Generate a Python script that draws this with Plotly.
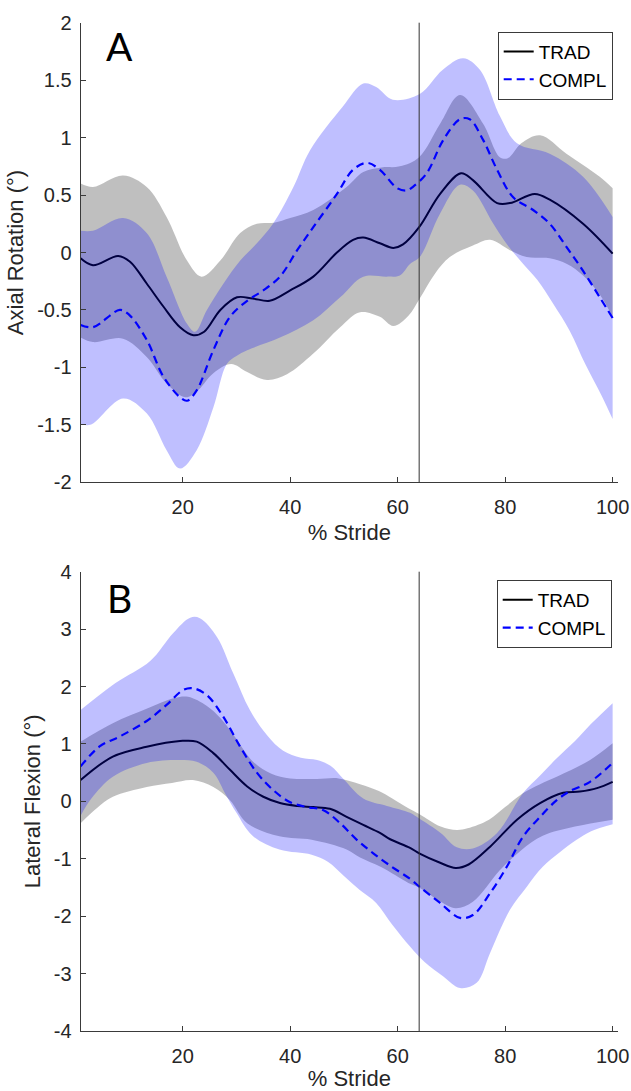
import plotly.graph_objects as go

# ---------------------------------------------------------------
# Panel A - axial rotation (deg) over the stride, mean and mean +/- SD
# each series is a list of (% stride, value) knots
# ---------------------------------------------------------------
AR_TRAD_MEAN = [(1, -0.05), (3.3, -0.11), (8, -0.03), (10.2, -0.08), (13.3, -0.27), (16.4, -0.47),
                (19.5, -0.65), (22, -0.72), (24, -0.69), (27, -0.50), (30.1, -0.39), (33, -0.40),
                (36.2, -0.42), (40, -0.33), (44.3, -0.21), (48.7, 0.0), (51.7, 0.11), (53.6, 0.13),
                (56.7, 0.08), (59.2, 0.04), (61, 0.07), (64, 0.22), (67.9, 0.51), (71.8, 0.69),
                (74, 0.63), (78.5, 0.43), (80.9, 0.43), (85.5, 0.51), (88.3, 0.46), (94.5, 0.25),
                (100, -0.01)]
AR_TRAD_UPPER = [(1, 0.60), (3.3, 0.57), (8.9, 0.67), (13.3, 0.57), (17, 0.31), (20.8, -0.07),
                 (23.5, -0.21), (27, -0.07), (30.7, 0.17), (33.8, 0.25), (37, 0.26), (40, 0.30),
                 (44.3, 0.37), (50.5, 0.57), (53.6, 0.70), (57, 0.74), (60.4, 0.75), (64, 0.83),
                 (67.9, 1.12), (71.6, 1.37), (75.9, 1.12), (79, 0.83), (80.5, 0.82), (83, 0.95),
                 (86.5, 1.02), (91.4, 0.86), (97.6, 0.66), (100, 0.56)]
AR_TRAD_LOWER = [(1, -0.74), (3.3, -0.78), (8.9, -0.75), (13.3, -0.91), (17, -1.14), (20.5, -1.26),
                 (22.6, -1.21), (25.7, -1.05), (29, -0.97), (32, -1.04), (35.7, -1.11), (39.4, -1.06),
                 (44.3, -0.88), (49.3, -0.65), (53, -0.52), (56.7, -0.56), (59.2, -0.64), (62, -0.55),
                 (64.1, -0.40), (67, -0.18), (69.7, -0.04), (74, 0.06), (77.2, 0.11), (80.9, 0.02),
                 (84, -0.04), (88.3, -0.05), (91.5, -0.10), (94.5, -0.20), (97.5, -0.36), (100, -0.56)]
AR_COMPL_MEAN = [(1, -0.63), (3.3, -0.65), (8.3, -0.50), (10, -0.54), (13.3, -0.76), (16.4, -1.08),
                 (19.5, -1.26), (20.8, -1.29), (22.6, -1.20), (25.7, -0.85), (28.8, -0.56), (32, -0.42),
                 (35, -0.33), (38.1, -0.21), (41.3, 0.02), (44.3, 0.22), (48.7, 0.51), (51.7, 0.72),
                 (54.3, 0.78), (56.7, 0.72), (59.9, 0.56), (61.7, 0.54), (62.8, 0.57), (65.4, 0.69),
                 (68.5, 0.98), (71.6, 1.16), (73.4, 1.16), (75.9, 0.98), (78.5, 0.72), (81.5, 0.48),
                 (85.2, 0.37), (88.3, 0.25), (91.4, 0.05), (94.5, -0.16), (97.6, -0.39), (100, -0.57)]
AR_COMPL_UPPER = [(1, 0.19), (3.3, 0.19), (8.9, 0.30), (13.3, 0.17), (17, -0.21), (20.8, -0.62),
                  (22.3, -0.69), (24.5, -0.50), (27.6, -0.27), (30.7, -0.07), (33.8, 0.08), (36.8, 0.25),
                  (40.6, 0.57), (43.7, 0.89), (49.8, 1.27), (53.6, 1.47), (56, 1.44), (59.1, 1.33),
                  (64.1, 1.38), (68.4, 1.59), (72.2, 1.69), (75.3, 1.59), (79, 1.19), (82.2, 0.95),
                  (88.3, 0.86), (94.5, 0.66), (100, 0.31)]
AR_COMPL_LOWER = [(1, -1.49), (2.8, -1.50), (8.9, -1.27), (13.3, -1.40), (17, -1.72), (19.5, -1.88),
                  (22.6, -1.72), (25.7, -1.35), (28.2, -0.97), (30, -0.90), (32, -0.85), (38.1, -0.74),
                  (44.3, -0.59), (49.3, -0.39), (53.6, -0.21), (58, -0.21), (60.4, -0.20), (62.3, -0.10),
                  (64.1, -0.04), (67.9, 0.34), (71.6, 0.59), (74, 0.54), (77.8, 0.25), (80.5, 0.06),
                  (83, -0.08), (86, -0.24), (89, -0.45), (92, -0.68), (95, -0.98), (98, -1.25), (100, -1.45)]

# ---------------------------------------------------------------
# Panel B - lateral flexion (deg) over the stride
# ---------------------------------------------------------------
LF_TRAD_MEAN = [(1, 0.37), (7, 0.78), (13.3, 0.95), (19.5, 1.05), (22.6, 1.04), (25.7, 0.84),
                (28.8, 0.55), (32, 0.26), (35, 0.08), (38.1, -0.03), (41.3, -0.08), (44.3, -0.10),
                (47.4, -0.13), (50.5, -0.27), (53.6, -0.41), (56.7, -0.55), (58.6, -0.66),
                (62.3, -0.81), (64.1, -0.91), (67.9, -1.07), (70.8, -1.16), (73.2, -1.10),
                (77.2, -0.79), (82.2, -0.32), (86.5, -0.03), (90.8, 0.15), (93.9, 0.17),
                (97.1, 0.23), (100, 0.34)]
LF_TRAD_UPPER = [(1, 1.04), (7, 1.36), (13.5, 1.62), (18.5, 1.80), (21, 1.82), (24.5, 1.66),
                 (27, 1.45), (29.5, 1.15), (33, 0.70), (36.5, 0.48), (40, 0.40), (45, 0.39),
                 (49, 0.40), (53, 0.30), (56.5, 0.18), (59, 0.05), (62, -0.12), (64, -0.22),
                 (68, -0.44), (71, -0.50), (73, -0.47), (77, -0.32), (80, -0.10), (83.3, 0.14),
                 (86.5, 0.30), (89.6, 0.43), (95.8, 0.72), (100, 1.01)]
LF_TRAD_LOWER = [(1, -0.38), (4, -0.12), (7, 0.08), (13.3, 0.25), (18, 0.32), (21.9, 0.37),
                 (25.7, 0.25), (28.8, 0.02), (32, -0.38), (38, -0.61), (44, -0.67), (50.5, -0.84),
                 (53, -0.98), (57, -1.15), (62, -1.42), (64, -1.50), (68, -1.75), (70.8, -1.86),
                 (74, -1.75), (79, -1.20), (83, -0.85), (87, -0.60), (93, -0.44), (100, -0.32)]
LF_COMPL_MEAN = [(1, 0.61), (4.6, 0.96), (8.3, 1.13), (13.3, 1.40), (17, 1.68), (20.1, 1.94),
                 (21.9, 1.97), (24.5, 1.85), (27.5, 1.48), (30.7, 0.95), (33.8, 0.50), (36.8, 0.20),
                 (39.9, -0.01), (43.1, -0.10), (46.1, -0.15), (49.3, -0.38), (52.4, -0.67),
                 (55.4, -0.90), (58.6, -1.12), (62.3, -1.35), (64.1, -1.49), (67.9, -1.77),
                 (71.6, -2.03), (74, -1.98), (77.2, -1.60), (80.3, -1.14), (83.3, -0.62),
                 (86.5, -0.27), (89.6, 0.02), (91.9, 0.17), (95.8, 0.34), (100, 0.67)]
LF_COMPL_UPPER = [(1, 1.59), (7.5, 2.06), (14, 2.45), (18.2, 2.93), (21.4, 3.20), (23.2, 3.19),
                  (26.4, 2.86), (29.4, 2.23), (32.5, 1.59), (35.7, 1.15), (38.7, 0.88), (42, 0.76),
                  (45, 0.72), (47.5, 0.62), (50, 0.38), (53.6, 0.05), (58, -0.08), (62.3, -0.20),
                  (64, -0.30), (68, -0.55), (71, -0.80), (74, -0.82), (78.5, -0.55), (83.3, 0.14),
                  (86.5, 0.45), (89.6, 0.75), (93, 1.05), (96, 1.35), (100, 1.71)]
LF_COMPL_LOWER = [(1, -0.25), (3, 0.05), (7, 0.43), (13.3, 0.67), (19.5, 0.72), (22.6, 0.69),
                  (25.7, 0.50), (28, 0.12), (30, -0.20), (33, -0.60), (38, -0.84), (44, -0.93),
                  (47, -1.05), (50, -1.30), (53, -1.55), (56, -1.77), (59, -2.15), (62.3, -2.53),
                  (65, -2.80), (68.5, -3.05), (71.6, -3.25), (74.7, -3.16), (77.2, -2.64),
                  (80.9, -1.89), (84, -1.49), (87, -1.14), (90, -0.90), (93.3, -0.67), (96, -0.52),
                  (100, -0.40)]

TOE_OFF = 64  # vertical event marker, % stride

X_TICKS = [20, 40, 60, 80, 100]
AR_TICKS = [2, 1.5, 1, 0.5, 0, -0.5, -1, -1.5, -2]
AR_TICK_TEXT = ["2", "1.5", "1", "0.5", "0", "-0.5", "-1", "-1.5", "-2"]
LF_TICKS = [4, 3, 2, 1, 0, -1, -2, -3, -4]
LF_TICK_TEXT = ["4", "3", "2", "1", "0", "-1", "-2", "-3", "-4"]

GRAY_FILL = "rgba(128,128,128,0.5)"
BLUE_FILL = "rgba(0,0,255,0.25)"
AXIS_COLOR = "#3a3a3a"
TEXT_COLOR = "#262626"
FONT = "Liberation Sans, Arial, sans-serif"


def xs(pts):
    return [p[0] for p in pts]


def ys(pts):
    return [p[1] for p in pts]


fig = go.Figure()


def add_panel(xa, ya, legend, t_mean, t_up, t_lo, c_mean, c_up, c_lo):
    common = dict(xaxis=xa, yaxis=ya, mode="lines", hoverinfo="skip")
    # TRAD band
    fig.add_trace(go.Scatter(x=xs(t_lo), y=ys(t_lo), line=dict(width=0, shape="spline"),
                             showlegend=False, **common))
    fig.add_trace(go.Scatter(x=xs(t_up), y=ys(t_up), line=dict(width=0, shape="spline"),
                             fill="tonexty", fillcolor=GRAY_FILL, showlegend=False, **common))
    fig.add_trace(go.Scatter(x=xs(t_mean), y=ys(t_mean), name="TRAD", legend=legend,
                             line=dict(color="black", width=2, shape="spline"), **common))
    # COMPL band
    fig.add_trace(go.Scatter(x=xs(c_lo), y=ys(c_lo), line=dict(width=0, shape="spline"),
                             showlegend=False, **common))
    fig.add_trace(go.Scatter(x=xs(c_up), y=ys(c_up), line=dict(width=0, shape="spline"),
                             fill="tonexty", fillcolor=BLUE_FILL, showlegend=False, **common))
    fig.add_trace(go.Scatter(x=xs(c_mean), y=ys(c_mean), name="COMPL", legend=legend,
                             line=dict(color="#0000ff", width=2.2, dash="8px,5px", shape="spline"),
                             **common))


add_panel("x", "y", "legend", AR_TRAD_MEAN, AR_TRAD_UPPER, AR_TRAD_LOWER,
          AR_COMPL_MEAN, AR_COMPL_UPPER, AR_COMPL_LOWER)
add_panel("x2", "y2", "legend2", LF_TRAD_MEAN, LF_TRAD_UPPER, LF_TRAD_LOWER,
          LF_COMPL_MEAN, LF_COMPL_UPPER, LF_COMPL_LOWER)

W, H = 631, 1091
X_DOMAIN = [80.6 / W, 618 / W]


def xaxis_style(anchor):
    return dict(domain=X_DOMAIN, range=[1, 101], anchor=anchor,
                tickvals=X_TICKS, ticktext=[str(t) for t in X_TICKS],
                ticks="inside", ticklen=5, tickcolor=AXIS_COLOR, tickwidth=1,
                showline=True, linecolor=AXIS_COLOR, linewidth=1, mirror=False,
                showgrid=False, zeroline=False, automargin=False,
                ticklabelstandoff=7,
                tickfont=dict(family=FONT, size=20, color=TEXT_COLOR),
                title=dict(text="% Stride", standoff=7,
                           font=dict(family=FONT, size=22, color=TEXT_COLOR)))


def yaxis_style(anchor, domain, rng, vals, text, title):
    return dict(domain=domain, range=rng, anchor=anchor,
                tickvals=vals, ticktext=text,
                ticks="inside", ticklen=5, tickcolor=AXIS_COLOR, tickwidth=1,
                showline=True, linecolor=AXIS_COLOR, linewidth=1, mirror=False,
                showgrid=False, zeroline=False, automargin=False,
                ticklabelstandoff=4,
                tickfont=dict(family=FONT, size=20, color=TEXT_COLOR),
                title=dict(text=title, standoff=7,
                           font=dict(family=FONT, size=22, color=TEXT_COLOR)))


legend_style = dict(bgcolor="white", bordercolor=AXIS_COLOR, borderwidth=1,
                    font=dict(family=FONT, size=19, color="black"),
                    xanchor="left", yanchor="top", itemwidth=30,
                    tracegroupgap=0, traceorder="normal")

fig.update_layout(
    width=W, height=H,
    margin=dict(l=0, r=0, t=0, b=0),
    paper_bgcolor="white", plot_bgcolor="white",
    template="none",
    xaxis=xaxis_style("y"),
    yaxis=yaxis_style("x", [1 - 482.3 / H, 1 - 22.7 / H], [-2, 2], AR_TICKS, AR_TICK_TEXT,
                      "Axial Rotation (°)"),
    xaxis2=xaxis_style("y2"),
    yaxis2=yaxis_style("x2", [1 - 1031 / H, 1 - 571.7 / H], [-4, 4], LF_TICKS, LF_TICK_TEXT,
                       "Lateral Flexion (°)"),
    legend=dict(x=497.7 / W, y=1 - 31.7 / H, **legend_style),
    legend2=dict(x=496.7 / W, y=1 - 580 / H, **legend_style),
    showlegend=True,
)

for xr in ("x", "x2"):
    fig.add_shape(type="line", xref=xr, yref=f"{'y' if xr == 'x' else 'y2'} domain",
                  x0=TOE_OFF, x1=TOE_OFF, y0=0, y1=1,
                  line=dict(color="#333333", width=1), layer="above")

for yr, letter, yfrac in (("y", "A", 0.949), ("y2", "B", 0.943)):
    fig.add_annotation(text=letter, xref=f"{'x' if yr == 'y' else 'x2'} domain",
                       yref=f"{yr} domain", x=0.0715, y=yfrac, showarrow=False,
                       xanchor="center", yanchor="middle",
                       font=dict(family="Lato, Open Sans, sans-serif", size=39, color="black"))

fig.write_html("out.html")
